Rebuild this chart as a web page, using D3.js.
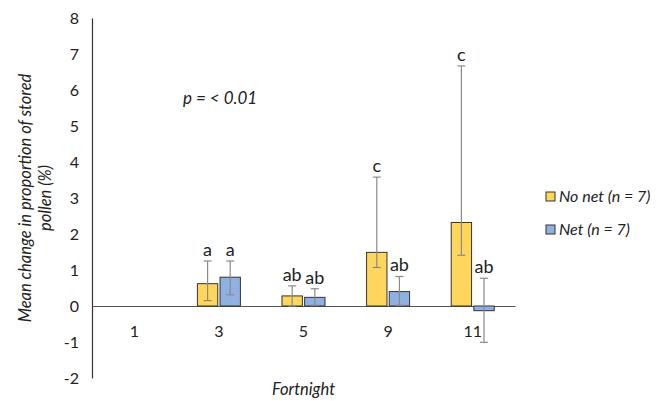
<!DOCTYPE html>
<html>
<head>
<meta charset="utf-8">
<script src="https://cdn.jsdelivr.net/npm/d3@7"></script>
<style>
  body { margin: 0; background: #fff; }
  text { font-family: Lato, "Open Sans", sans-serif; fill: #222; }
</style>
</head>
<body>
<div id="chart"></div>
<script>
// chart data
let fortnights = ["1", "3", "5", "9", "11"];
let seriesNames = ["No net (n = 7)", "Net (n = 7)"];
let noNetMean = [null, 0.62, 0.28, 1.49, 2.32];
let noNetUpper = [null, 1.25, 0.56, 3.58, 6.67];
let noNetLower = [null, 0.15, 0.0, 1.07, 1.41];
let netMean = [null, 0.80, 0.24, 0.40, -0.13];
let netUpper = [null, 1.25, 0.48, 0.82, 0.77];
let netLower = [null, 0.31, 0.02, 0.02, -1.01];
let noNetLetters = ["", "a", "ab", "c", "c"];
let netLetters = ["", "a", "ab", "ab", "ab"];
let yTicks = [-2, -1, 0, 1, 2, 3, 4, 5, 6, 7, 8];

let svgWidth = 668;
let svgHeight = 401;
let margin = { top: 18, right: 153, bottom: 23, left: 92 };
let width = svgWidth - margin.left - margin.right;
let height = svgHeight - margin.top - margin.bottom;

let colors = ["#FFD65C", "#8EB1E1"];

let svg = d3.select("#chart")
  .append("svg")
  .attr("width", svgWidth)
  .attr("height", svgHeight);

let chartGroup = svg.append("g")
  .attr("transform", `translate(${margin.left}, ${margin.top})`);

let xScale = d3.scaleBand()
  .domain(fortnights)
  .range([0, width]);

let xInner = d3.scaleBand()
  .domain([0, 1])
  .range([xScale.bandwidth() / 2 - 21.5, xScale.bandwidth() / 2 + 21.5])
  .paddingInner(0.1);

let yScale = d3.scaleLinear()
  .domain([-2, 8])
  .range([height, 0]);

// y axis: line + labels only
let yAxis = chartGroup.append("g")
  .call(d3.axisLeft(yScale).tickValues(yTicks).tickSize(0).tickPadding(13).tickFormat(d => String(d)));
yAxis.select(".domain").attr("stroke", "#333").attr("stroke-width", 1.2);
yAxis.selectAll("text").attr("font-size", "16px").attr("fill", "#222");

// x axis at zero
let xAxis = chartGroup.append("g")
  .attr("transform", `translate(0, ${yScale(0)})`)
  .call(d3.axisBottom(xScale).tickSize(0).tickPadding(0).tickFormat(""));
xAxis.select(".domain").attr("stroke", "#555").attr("stroke-width", 1);

// category labels below plot area
chartGroup.selectAll(".catLabel")
  .data(fortnights)
  .enter()
  .append("text")
  .attr("class", "catLabel")
  .attr("x", d => xScale(d) + xScale.bandwidth() / 2)
  .attr("y", yScale(-0.85))
  .attr("text-anchor", "middle")
  .attr("font-size", "16px")
  .text(d => d);

let series = [
  { mean: noNetMean, upper: noNetUpper, lower: noNetLower, letters: noNetLetters },
  { mean: netMean, upper: netUpper, lower: netLower, letters: netLetters }
];

series.forEach(function(s, si) {
  let rows = fortnights.map((f, i) => ({
    f: f, mean: s.mean[i], upper: s.upper[i], lower: s.lower[i], letter: s.letters[i]
  })).filter(d => d.mean !== null);

  let g = chartGroup.append("g");

  g.selectAll("rect")
    .data(rows)
    .enter()
    .append("rect")
    .attr("x", d => xScale(d.f) + xInner(si))
    .attr("y", d => yScale(Math.max(0, d.mean)))
    .attr("width", xInner.bandwidth())
    .attr("height", d => Math.abs(yScale(d.mean) - yScale(0)))
    .attr("fill", colors[si])
    .attr("stroke", "#333")
    .attr("stroke-width", 1);

  let cx = d => xScale(d.f) + xInner(si) + xInner.bandwidth() / 2;

  g.selectAll(".err")
    .data(rows)
    .enter()
    .append("line")
    .attr("x1", cx).attr("x2", cx)
    .attr("y1", d => yScale(d.upper))
    .attr("y2", d => yScale(d.lower))
    .attr("stroke", "#8a8a8a")
    .attr("stroke-width", 1.2);

  ["upper", "lower"].forEach(function(k) {
    g.selectAll(".cap-" + k)
      .data(rows)
      .enter()
      .append("line")
      .attr("x1", d => cx(d) - 4).attr("x2", d => cx(d) + 4)
      .attr("y1", d => yScale(d[k]))
      .attr("y2", d => yScale(d[k]))
      .attr("stroke", "#8a8a8a")
      .attr("stroke-width", 1.2);
  });

  g.selectAll(".letter")
    .data(rows)
    .enter()
    .append("text")
    .attr("x", cx)
    .attr("y", d => yScale(d.upper) - 5)
    .attr("text-anchor", "middle")
    .attr("font-size", "18px")
    .text(d => d.letter);
});

// p value annotation
chartGroup.append("text")
  .attr("x", 91)
  .attr("y", 86)
  .attr("font-size", "17px")
  .attr("font-style", "italic")
  .text("p = < 0.01");

// y title
let yTitle = svg.append("text")
  .attr("transform", `translate(31, ${margin.top + yScale(3)}) rotate(-90)`)
  .attr("text-anchor", "middle")
  .attr("font-size", "16.5px")
  .attr("font-style", "italic");
yTitle.append("tspan").attr("x", 0).attr("dy", 0).text("Mean change in proportion of stored");
yTitle.append("tspan").attr("x", 0).attr("dy", "1.2em").text("pollen (%)");

// x title
svg.append("text")
  .attr("x", margin.left + width / 2)
  .attr("y", 395)
  .attr("text-anchor", "middle")
  .attr("font-size", "16.5px")
  .attr("font-style", "italic")
  .text("Fortnight");

// legend
let legend = svg.append("g")
  .attr("transform", "translate(546, 192)");
seriesNames.forEach(function(name, i) {
  let row = legend.append("g").attr("transform", `translate(0, ${i * 33})`);
  row.append("rect")
    .attr("width", 9).attr("height", 9)
    .attr("fill", colors[i])
    .attr("stroke", "#333");
  row.append("text")
    .attr("x", 13)
    .attr("y", 10)
    .attr("font-size", "16px")
    .attr("font-style", "italic")
    .text(name);
});
</script>
</body>
</html>
